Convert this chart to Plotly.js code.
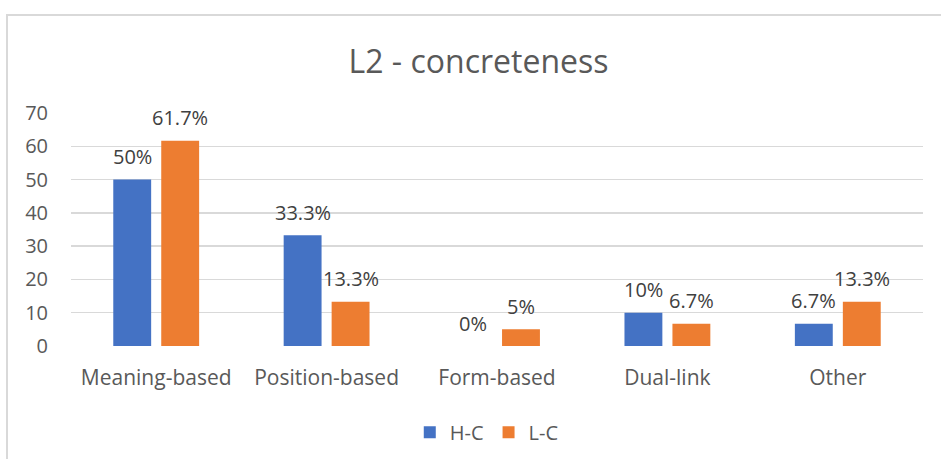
<!DOCTYPE html>
<html>
<head>
<meta charset="utf-8">
<script src="https://cdn.plot.ly/plotly-3.0.1.min.js"></script>
<style>
html,body{margin:0;padding:0;background:#fff;}
#chart{position:absolute;left:0;top:0;width:941px;height:459px;}
#frame{position:absolute;left:6px;top:14px;width:935px;height:445px;border-left:2px solid #d9d9d9;border-top:2px solid #d9d9d9;pointer-events:none;}
</style>
</head>
<body>
<div id="chart"></div>
<div id="frame"></div>
<script>
const categories = ["Meaning-based", "Position-based", "Form-based", "Dual-link", "Other"];
const hcValues = [50, 33.3, 0, 10, 6.7];
const lcValues = [61.7, 13.3, 5, 6.7, 13.3];
const hcLabels = ["50%", "33.3%", "0%", "10%", "6.7%"];
const lcLabels = ["61.7%", "13.3%", "5%", "6.7%", "13.3%"];
const yTicks = [0, 10, 20, 30, 40, 50, 60, 70];

const font = "Open Sans, sans-serif";
const traces = [
  {type:"bar", name:"H-C", x:categories, y:hcValues, marker:{color:"#4472C4"}, cliponaxis:false, hoverinfo:"none"},
  {type:"bar", name:"L-C", x:categories, y:lcValues, marker:{color:"#ED7D31"}, cliponaxis:false, hoverinfo:"none"}
];
function labels(vals, txt, shift){
  return vals.map((v,i)=>({x:categories[i], y:v, text:txt[i], xref:"x", yref:"y", showarrow:false,
    xshift:shift, yshift:23, yanchor:"middle", xanchor:"center",
    font:{family:font,size:20,color:"#404040"}}));
}
const layout = {
  width:941, height:459,
  margin:{l:71, r:18, t:113, b:113, autoexpand:false},
  paper_bgcolor:"rgba(0,0,0,0)", plot_bgcolor:"#fff",
  title:{text:"L2 - concreteness", font:{family:font,size:32,color:"#595959"}, x:0.5085, xanchor:"center", y:0.865, yanchor:"middle"},
  barmode:"group", bargap:0.437, bargroupgap:0.21,
  showlegend:true,
  legend:{orientation:"h", x:0.488, xanchor:"center", y:-0.37, yanchor:"middle", font:{family:font,size:20,color:"#595959"}},
  xaxis:{tickfont:{family:font,size:21,color:"#595959"}, showgrid:false, zeroline:false, showline:false, ticks:"", ticklabelstandoff:17, automargin:false},
  yaxis:{range:[0,70], tickvals:yTicks, tickfont:{family:font,size:20,color:"#595959"}, gridcolor:"#d9d9d9", gridwidth:1.5, zeroline:false, showline:false, ticks:"", ticklabelstandoff:22, automargin:false},
  annotations: labels(hcValues, hcLabels, -24).concat(labels(lcValues, lcLabels, 24))
};
Plotly.newPlot("chart", traces, layout, {displayModeBar:false, staticPlot:true});
</script>
</body>
</html>
